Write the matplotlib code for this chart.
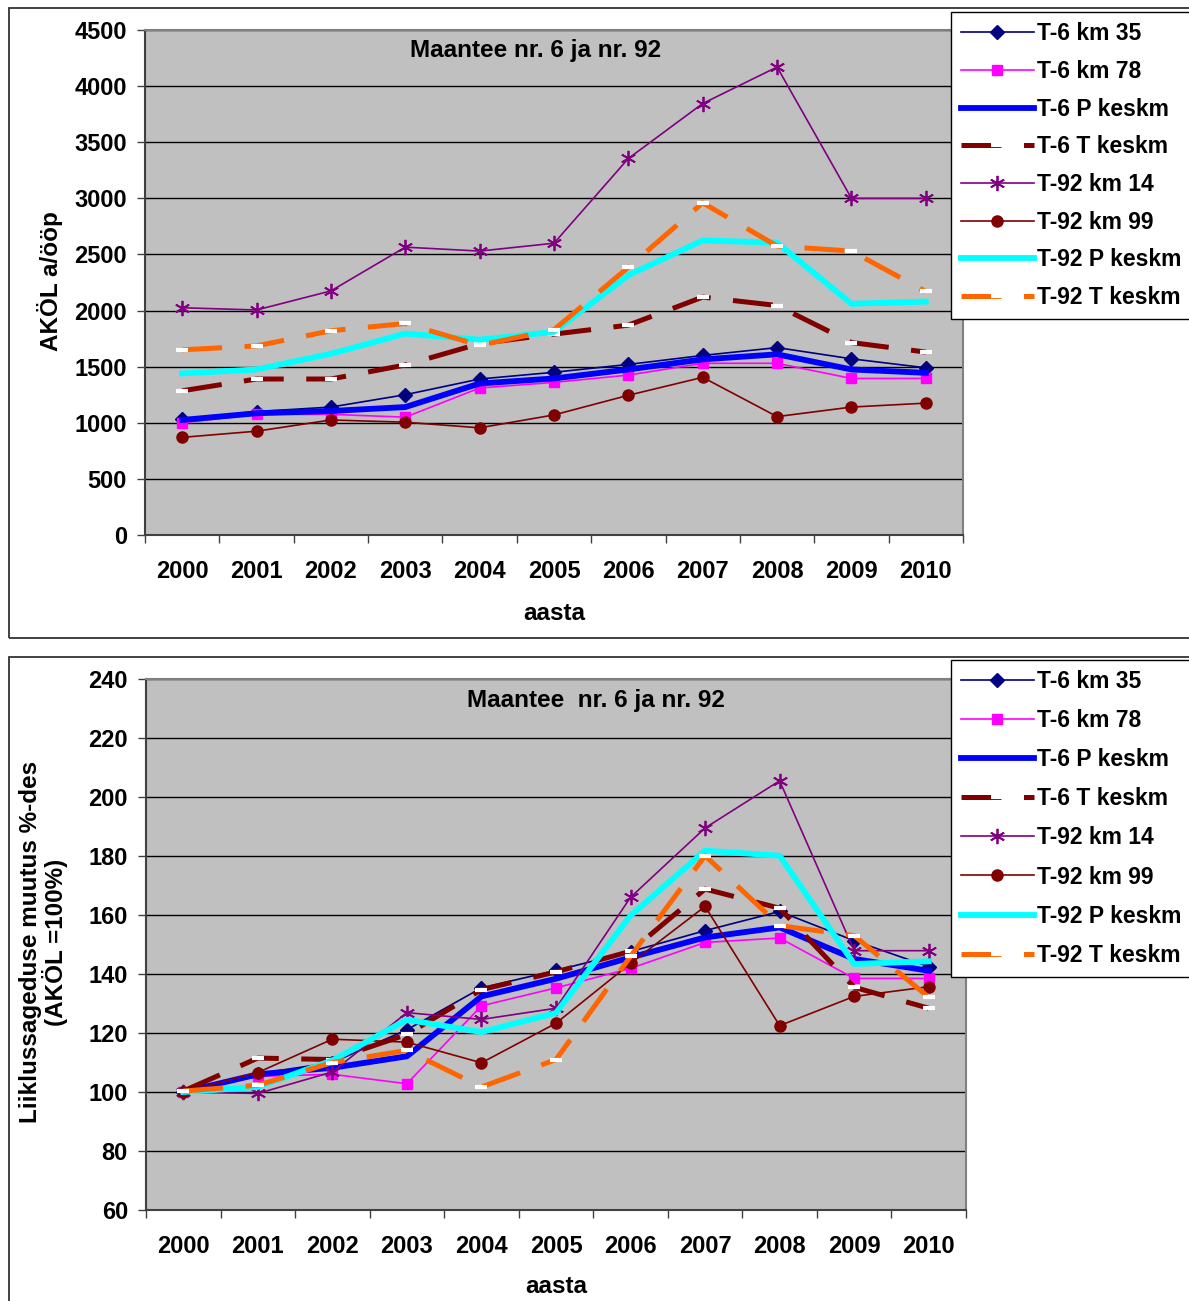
import matplotlib
matplotlib.use("Agg")
import matplotlib.pyplot as plt
from matplotlib.patches import Rectangle
import numpy as np

plt.rcParams['font.family'] = ['Liberation Sans', 'DejaVu Sans']
plt.rcParams['font.weight'] = 'bold'

W, H = 1189, 1301

years = ['2000', '2001', '2002', '2003', '2004', '2005', '2006', '2007', '2008', '2009', '2010']
names = ['T-6 km 35', 'T-6 km 78', 'T-6 P keskm', 'T-6 T keskm',
         'T-92 km 14', 'T-92 km 99', 'T-92 P keskm', 'T-92 T keskm']

# AKÖL, vehicles per day
t6_km35 = [1030, 1100, 1140, 1250, 1390, 1450, 1520, 1600, 1670, 1570, 1490]
t6_km78 = [1000, 1075, 1075, 1050, 1310, 1360, 1425, 1530, 1530, 1395, 1395]
t6_p = [1025, 1085, 1105, 1140, 1350, 1395, 1475, 1565, 1610, 1475, 1445]
t6_t = [1285, 1390, 1390, 1515, 1705, 1790, 1870, 2120, 2045, 1715, 1630]
t92_km14 = [2025, 2005, 2175, 2565, 2530, 2600, 3355, 3845, 4170, 3000, 3000]
t92_km99 = [870, 925, 1025, 1005, 955, 1070, 1245, 1405, 1055, 1140, 1175]
t92_p = [1440, 1475, 1615, 1795, 1740, 1810, 2315, 2625, 2605, 2060, 2080]
t92_t = [1650, 1685, 1820, 1885, 1690, 1830, 2385, 2960, 2575, 2530, 2170]

# change in %, 2000 = 100
p_t6_km35 = [100, 106.2, 110, 121.1, 135.3, 141.2, 147.6, 154.7, 161.2, 151.3, 142.5]
p_t6_km78 = [100, 105.3, 106, 102.8, 129.2, 135.3, 141.9, 150.7, 152.2, 138.5, 138.5]
p_t6_p = [100, 106, 108.2, 112.1, 132.4, 138.4, 145.6, 152.4, 155.8, 145.1, 141.1]
p_t6_t = [100.3, 111.5, 111, 119.5, 134.7, 140.7, 147.7, 168.8, 162.3, 135.5, 128.4]
p_t92_km14 = [100, 99.5, 106.8, 126.9, 124.6, 128.4, 166, 189.5, 205.5, 147.9, 147.9]
p_t92_km99 = [100, 106.6, 117.9, 116.9, 109.9, 123.3, 143.6, 162.9, 122.5, 132.4, 135.7]
p_t92_p = [100, 101.7, 110.7, 124.5, 120.3, 126.8, 159.8, 181.8, 180.1, 143.4, 144.3]
p_t92_t = [100.3, 102.3, 110, 114.1, 101.7, 111, 146, 180.1, 156.4, 153, 132.1]

top_series = [t6_km35, t6_km78, t6_p, t6_t, t92_km14, t92_km99, t92_p, t92_t]
bottom_series = [p_t6_km35, p_t6_km78, p_t6_p, p_t6_t, p_t92_km14, p_t92_km99, p_t92_p, p_t92_t]

dash = dict(lw=3.6, dashes=(8, 4.5), marker='_', ms=9, mew=3, mec='white')
styles = [
    dict(color='#000080', lw=1.2, marker='D', ms=7),
    dict(color='#FF00FF', lw=1.2, marker='s', ms=7),
    dict(color='#0000FF', lw=4.2),
    dict(color='#800000', **dash),
    dict(color='#800080', lw=1.2, marker=(6, 2, 0), ms=11, mew=1.3),
    dict(color='#800000', lw=1.2, marker='o', ms=8),
    dict(color='#00FFFF', lw=4.2),
    dict(color='#FF6600', **dash),
]


def px_box(x0, y0, x1, y1):
    return [x0 / W, 1 - y1 / H, (x1 - x0) / W, (y1 - y0) / H]


fig = plt.figure(figsize=(W / 100, H / 100), dpi=100)

# chart area frames
for y0, y1 in [(8, 638), (657, 1320)]:
    fig.patches.append(Rectangle((9 / W, 1 - y1 / H), 1.2, (y1 - y0) / H,
                                 transform=fig.transFigure, fill=False,
                                 edgecolor='#333333', lw=1.3))


def setup(ax, ylim, yticks, title, title_x):
    x = np.arange(len(years))
    ax.set_facecolor('#C0C0C0')
    ax.set_xlim(-0.5, len(years) - 0.5)
    ax.set_ylim(*ylim)
    ax.set_yticks(yticks)
    ax.set_xticks(np.arange(-0.5, len(years)), [''] * (len(years) + 1))
    ax.set_xticks(x, years, minor=True)
    ax.tick_params(axis='x', which='major', length=6, width=1, color='#404040')
    ax.tick_params(axis='x', which='minor', length=0, pad=18, labelsize=17)
    ax.tick_params(axis='y', length=6, width=1, color='#404040', pad=7, labelsize=17)
    ax.grid(axis='y', color='black', lw=1)
    ax.set_axisbelow(True)
    for s in ['left', 'bottom']:
        ax.spines[s].set_color('#404040')
        ax.spines[s].set_linewidth(1.5)
    for s in ['top', 'right']:
        ax.spines[s].set_color('#808080')
        ax.spines[s].set_linewidth(1.5)
    ax.text(title_x, 0.96, title, transform=ax.transAxes, ha='center', va='center',
            fontsize=17.5, fontweight='bold')
    return x


def add_legend(ax, top, spacing):
    leg = ax.legend(loc='upper left', bbox_to_anchor=(951 / W, 1 - top / H),
                    bbox_transform=fig.transFigure, handlelength=3.15,
                    handletextpad=0.15, labelspacing=spacing, borderpad=0.45,
                    borderaxespad=0, fancybox=False, edgecolor='black', framealpha=1,
                    numpoints=1, prop={'weight': 'bold', 'size': 16.5})
    leg.get_frame().set_linewidth(1)
    return leg


# top chart
ax1 = fig.add_axes(px_box(145, 30, 963, 535))
x = setup(ax1, (0, 4500), np.arange(0, 4501, 500), 'Maantee nr. 6 ja nr. 92', 0.478)
for vals, name, st in zip(top_series, names, styles):
    ax1.plot(x, vals, label=name, **st)
ax1.set_xlabel('aasta', fontsize=17.5, fontweight='bold', labelpad=14)
fig.text(50 / W, 1 - 281 / H, 'AKÖL a/ööp', rotation=90, ha='center', va='center',
         fontsize=17.5, fontweight='bold')
add_legend(ax1, 12, 0.64)

# bottom chart
ax2 = fig.add_axes(px_box(146, 679, 966, 1210))
x = setup(ax2, (60, 240), np.arange(60, 241, 20), 'Maantee  nr. 6 ja nr. 92', 0.549)
for vals, name, st in zip(bottom_series, names, styles):
    ax2.plot(x, vals, label=name, **st)
ax2.set_xlabel('aasta', fontsize=17.5, fontweight='bold', labelpad=12)
fig.text(44 / W, 1 - 942 / H, 'Liiklussageduse muutus %-des\n(AKÖL =100%)', rotation=90,
         ha='center', va='center', fontsize=17.5, fontweight='bold', linespacing=1.0)
add_legend(ax2, 660, 0.7)

fig.savefig('out.png', dpi=100)
